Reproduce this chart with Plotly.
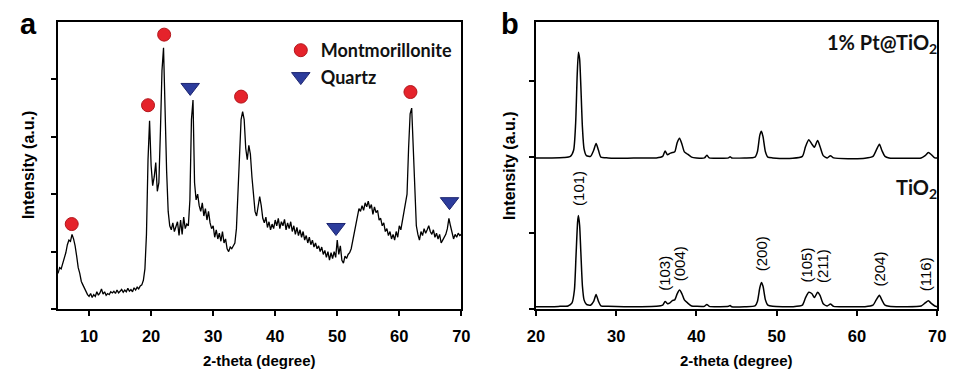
import plotly.graph_objects as go

# ---------------- Panel a : clay XRD pattern ----------------
ANGLE_A = [
    5.0, 5.25, 5.5, 5.75, 6.0, 6.25, 6.5, 6.75, 7.0, 7.25, 7.5, 7.75, 8.0, 8.25, 8.5, 8.75,
    9.0, 9.25, 9.5, 9.75, 10.0, 10.25, 10.5, 10.75, 11.0, 11.25, 11.5, 11.75, 12.0, 12.25, 12.5, 12.75,
    13.0, 13.25, 13.5, 13.75, 14.0, 14.25, 14.5, 14.75, 15.0, 15.25, 15.5, 15.75, 16.0, 16.25, 16.5, 16.75,
    17.0, 17.25, 17.5, 17.75, 18.0, 18.25, 18.5, 18.75, 19.0, 19.25, 19.5, 19.75, 20.0, 20.25, 20.5, 20.75,
    21.0, 21.25, 21.5, 21.75, 22.0, 22.25, 22.5, 22.75, 23.0, 23.25, 23.5, 23.75, 24.0, 24.25, 24.5, 24.75,
    25.0, 25.25, 25.5, 25.75, 26.0, 26.25, 26.5, 26.75, 27.0, 27.25, 27.5, 27.75, 28.0, 28.25, 28.5, 28.75,
    29.0, 29.25, 29.5, 29.75, 30.0, 30.25, 30.5, 30.75, 31.0, 31.25, 31.5, 31.75, 32.0, 32.25, 32.5, 32.75,
    33.0, 33.25, 33.5, 33.75, 34.0, 34.25, 34.5, 34.75, 35.0, 35.25, 35.5, 35.75, 36.0, 36.25, 36.5, 36.75,
    37.0, 37.25, 37.5, 37.75, 38.0, 38.25, 38.5, 38.75, 39.0, 39.25, 39.5, 39.75, 40.0, 40.25, 40.5, 40.75,
    41.0, 41.25, 41.5, 41.75, 42.0, 42.25, 42.5, 42.75, 43.0, 43.25, 43.5, 43.75, 44.0, 44.25, 44.5, 44.75,
    45.0, 45.25, 45.5, 45.75, 46.0, 46.25, 46.5, 46.75, 47.0, 47.25, 47.5, 47.75, 48.0, 48.25, 48.5, 48.75,
    49.0, 49.25, 49.5, 49.75, 50.0, 50.25, 50.5, 50.75, 51.0, 51.25, 51.5, 51.75, 52.0, 52.25, 52.5, 52.75,
    53.0, 53.25, 53.5, 53.75, 54.0, 54.25, 54.5, 54.75, 55.0, 55.25, 55.5, 55.75, 56.0, 56.25, 56.5, 56.75,
    57.0, 57.25, 57.5, 57.75, 58.0, 58.25, 58.5, 58.75, 59.0, 59.25, 59.5, 59.75, 60.0, 60.25, 60.5, 60.75,
    61.0, 61.25, 61.5, 61.75, 62.0, 62.25, 62.5, 62.75, 63.0, 63.25, 63.5, 63.75, 64.0, 64.25, 64.5, 64.75,
    65.0, 65.25, 65.5, 65.75, 66.0, 66.25, 66.5, 66.75, 67.0, 67.25, 67.5, 67.75, 68.0, 68.25, 68.5, 68.75,
    69.0, 69.25, 69.5, 69.75, 70.0,
]
INTENSITY_A = [
    0.62, 0.72, 0.70, 0.80, 0.86, 0.98, 1.12, 1.20, 1.18, 1.30, 1.22, 1.10, 0.92, 0.72, 0.62, 0.48,
    0.42, 0.36, 0.33, 0.25, 0.22, 0.27, 0.20, 0.25, 0.22, 0.30, 0.24, 0.28, 0.35, 0.26, 0.30, 0.24,
    0.27, 0.25, 0.30, 0.28, 0.31, 0.27, 0.33, 0.28, 0.31, 0.34, 0.29, 0.33, 0.30, 0.36, 0.31, 0.34,
    0.30, 0.37, 0.33, 0.38, 0.35, 0.40, 0.42, 0.50, 0.70, 1.30, 2.60, 3.28, 2.50, 2.15, 2.30, 2.55,
    2.05, 2.20, 3.10, 4.15, 4.55, 3.40, 2.40, 1.70, 1.45, 1.38, 1.50, 1.35, 1.45, 1.52, 1.28, 1.55,
    1.30, 1.60, 1.40, 1.48, 1.45, 1.90, 3.30, 3.64, 2.20, 1.90, 2.00, 1.80, 1.70, 1.85, 1.62, 1.75,
    1.55, 1.70, 1.50, 1.40, 1.45, 1.25, 1.38, 1.22, 1.32, 1.18, 1.35, 1.15, 1.22, 1.05, 1.00, 1.08,
    1.05, 1.10, 1.15, 1.40, 2.10, 2.90, 3.30, 3.44, 3.30, 2.80, 2.60, 2.85, 2.70, 2.30, 2.00, 1.70,
    1.62, 1.80, 1.96, 1.80, 1.58, 1.50, 1.60, 1.42, 1.52, 1.38, 1.48, 1.40, 1.55, 1.45, 1.58, 1.40,
    1.52, 1.45, 1.56, 1.38, 1.50, 1.40, 1.52, 1.35, 1.45, 1.30, 1.42, 1.28, 1.38, 1.25, 1.35, 1.20,
    1.28, 1.15, 1.25, 1.12, 1.20, 1.08, 1.15, 1.05, 1.10, 1.00, 1.08, 0.95, 1.02, 0.90, 1.00, 0.85,
    0.98, 0.88, 1.00, 0.90, 1.20, 0.95, 1.10, 0.85, 0.80, 0.92, 0.88, 0.95, 0.98, 1.05, 1.20, 1.30,
    1.45, 1.60, 1.75, 1.70, 1.80, 1.72, 1.85, 1.78, 1.88, 1.75, 1.82, 1.65, 1.78, 1.68, 1.72, 1.55,
    1.58, 1.45, 1.50, 1.35, 1.40, 1.28, 1.35, 1.22, 1.30, 1.20, 1.35, 1.25, 1.45, 1.38, 1.55, 1.70,
    1.85, 2.00, 2.80, 3.40, 3.50, 2.80, 1.90, 1.45, 1.30, 1.20, 1.35, 1.28, 1.40, 1.32, 1.38, 1.45,
    1.35, 1.30, 1.38, 1.25, 1.32, 1.22, 1.30, 1.15, 1.20, 1.25, 1.30, 1.40, 1.58, 1.45, 1.30, 1.22,
    1.30, 1.25, 1.32, 1.28, 1.30,
]

MONT_ANGLES = [7.2, 19.5, 22.1, 34.5, 61.8]
MONT_LEVELS = [1.48, 3.55, 4.78, 3.70, 3.78]
QUARTZ_ANGLES = [26.3, 49.8, 68.1]
QUARTZ_LEVELS = [3.86, 1.42, 1.87]

# ---------------- Panel b : TiO2 patterns ----------------
ANGLE_TIO2 = [
    20.0, 22.0, 23.0, 24.0, 24.5, 24.8, 25.0, 25.2, 25.3, 25.45, 25.6, 25.8, 26.0, 26.3, 26.8,
    27.2, 27.5, 27.8, 28.1, 29.0, 31.0, 33.0, 35.0, 35.8, 36.1, 36.4, 36.7, 37.0, 37.3, 37.6,
    37.9, 38.2, 38.5, 38.9, 39.4, 40.0, 41.0, 41.3, 41.6, 43.0, 44.0, 44.2, 44.4, 46.0, 47.3,
    47.6, 47.9, 48.1, 48.3, 48.6, 48.9, 49.5, 52.0, 53.2, 53.6, 54.0, 54.4, 54.7, 55.1, 55.4,
    55.8, 56.3, 56.7, 57.1, 59.0, 61.0, 62.0, 62.4, 62.8, 63.1, 63.5, 64.0, 66.0, 68.0, 68.5,
    68.9, 69.3, 69.7, 70.0,
]
INTENSITY_TIO2 = [
    0.03, 0.03, 0.035, 0.04, 0.08, 0.25, 0.70, 1.15, 1.23, 1.10, 0.75, 0.30, 0.12, 0.06, 0.05,
    0.10, 0.19, 0.10, 0.04, 0.035, 0.03, 0.03, 0.035, 0.05, 0.10, 0.07, 0.08, 0.11, 0.12, 0.20,
    0.25, 0.20, 0.12, 0.08, 0.04, 0.035, 0.035, 0.06, 0.035, 0.03, 0.035, 0.045, 0.03, 0.03, 0.04,
    0.10, 0.28, 0.35, 0.30, 0.12, 0.05, 0.035, 0.03, 0.05, 0.15, 0.22, 0.20, 0.15, 0.22, 0.18,
    0.07, 0.04, 0.065, 0.035, 0.03, 0.03, 0.05, 0.12, 0.18, 0.12, 0.05, 0.035, 0.03, 0.04, 0.08,
    0.11, 0.07, 0.04, 0.03,
]
ANGLE_PT = [
    20.0, 22.0, 23.5, 24.3, 24.7, 24.95, 25.15, 25.3, 25.45, 25.6, 25.8, 26.0, 26.3, 26.8,
    27.2, 27.5, 27.8, 28.1, 29.0, 31.0, 33.0, 35.0, 35.8, 36.1, 36.4, 36.7, 37.0, 37.3, 37.6,
    37.9, 38.2, 38.5, 38.9, 39.4, 40.0, 41.0, 41.3, 41.6, 43.0, 44.0, 44.2, 44.4, 46.0, 47.3,
    47.6, 47.9, 48.1, 48.3, 48.6, 48.9, 49.5, 52.0, 53.2, 53.6, 54.0, 54.4, 54.7, 55.1, 55.4,
    55.8, 56.3, 56.7, 57.1, 59.0, 61.0, 62.0, 62.4, 62.8, 63.1, 63.5, 64.0, 66.0, 68.0, 68.5,
    68.9, 69.3, 69.7, 70.0,
]
INTENSITY_PT = [
    0.0, 0.0, 0.005, 0.02, 0.10, 0.45, 1.10, 1.39, 1.30, 0.95, 0.40, 0.12, 0.03, 0.02,
    0.10, 0.19, 0.10, 0.01, 0.0, -0.005, 0.0, 0.0, 0.02, 0.09, 0.04, 0.06, 0.07, 0.08, 0.20,
    0.26, 0.18, 0.08, 0.05, 0.01, 0.0, 0.0, 0.035, 0.0, -0.005, 0.0, 0.015, 0.0, 0.0, 0.01,
    0.08, 0.30, 0.35, 0.28, 0.08, 0.01, 0.0, -0.005, 0.02, 0.15, 0.24, 0.18, 0.14, 0.23, 0.15,
    0.03, 0.0, 0.03, 0.0, -0.01, -0.005, 0.02, 0.10, 0.18, 0.10, 0.02, 0.0, -0.005, 0.0, 0.03,
    0.07, 0.04, 0.0, 0.0,
]
PT_OFFSET = 1.99

MILLER_LABELS = ["(101)", "(103)", "(004)", "(200)", "(105)", "(211)", "(204)", "(116)"]
MILLER_ANGLES = [25.3, 36.0, 37.9, 48.1, 53.7, 55.7, 62.7, 68.5]
MILLER_LEVELS = [1.33, 0.21, 0.34, 0.47, 0.32, 0.32, 0.27, 0.21]

X_TICKS_A = [10, 20, 30, 40, 50, 60, 70]
X_TICKS_B = [20, 30, 40, 50, 60, 70]

# ---------------- figure ----------------
W, H = 956, 369
BLACK = "#000000"
RED = "#e5232b"
BLUE = "#2c3c9c"
ARIAL = "Liberation Sans, Arial, sans-serif"
CAL = "Lato, Open Sans, sans-serif"

fig = go.Figure()
fig.add_trace(go.Scatter(x=ANGLE_A, y=INTENSITY_A, mode="lines",
                         line=dict(color=BLACK, width=1.3), showlegend=False,
                         xaxis="x", yaxis="y"))
fig.add_trace(go.Scatter(x=MONT_ANGLES, y=MONT_LEVELS, mode="markers", name="Montmorillonite",
                         marker=dict(symbol="circle", size=13, color=RED,
                                     line=dict(color="#b3161c", width=1)),
                         xaxis="x", yaxis="y"))
fig.add_trace(go.Scatter(x=QUARTZ_ANGLES, y=QUARTZ_LEVELS, mode="markers", name="Quartz",
                         marker=dict(symbol="triangle-down", size=16, color=BLUE,
                                     line=dict(color="#1d2670", width=1)),
                         xaxis="x", yaxis="y"))
fig.add_trace(go.Scatter(x=ANGLE_TIO2, y=INTENSITY_TIO2, mode="lines",
                         line=dict(color=BLACK, width=1.5, shape="spline", smoothing=0.6),
                         showlegend=False, xaxis="x2", yaxis="y2"))
fig.add_trace(go.Scatter(x=ANGLE_PT, y=[v + PT_OFFSET for v in INTENSITY_PT], mode="lines",
                         line=dict(color=BLACK, width=1.5, shape="spline", smoothing=0.6),
                         showlegend=False, xaxis="x2", yaxis="y2"))

ydom = [1 - 309 / H, 1 - 22 / H]
axis_common = dict(showline=True, linecolor=BLACK, linewidth=2, mirror=True,
                   ticks="outside", ticklen=5, tickwidth=1.5, tickcolor=BLACK,
                   showgrid=False, zeroline=False)
tickfont = dict(family="Liberation Sans", size=16.5, color=BLACK, weight="bold")

fig.update_layout(
    width=W, height=H, margin=dict(l=0, r=0, t=0, b=0),
    paper_bgcolor="white", plot_bgcolor="white",
    font=dict(family=ARIAL, color=BLACK),
    xaxis=dict(domain=[50 / W, 461 / W], range=[5, 70], tickmode="array", tickvals=X_TICKS_A,
               ticktext=["<b>%d</b>" % v for v in X_TICKS_A], ticklabelstandoff=6,
               tickfont=tickfont, anchor="y", **axis_common),
    yaxis=dict(domain=ydom, range=[0, 5], tickvals=[0, 1, 2, 3, 4], showticklabels=False,
               anchor="x", **axis_common),
    xaxis2=dict(domain=[537 / W, 946 / W], range=[20, 70], tickmode="array", tickvals=X_TICKS_B,
                ticktext=["<b>%d</b>" % v for v in X_TICKS_B], ticklabelstandoff=6,
                tickfont=tickfont, anchor="y2", **axis_common),
    yaxis2=dict(domain=ydom, range=[0, 3.78], tickvals=[0, 1, 2, 3], showticklabels=False,
                anchor="x2", **axis_common),
    legend=dict(x=277 / W, y=1 - 32 / H, xanchor="left", yanchor="top",
                bgcolor="rgba(0,0,0,0)", borderwidth=0, tracegroupgap=0,
                font=dict(family=CAL, size=18, color="#111111", weight="bold")),
    showlegend=True,
)

ann = []
title_font = dict(family=ARIAL, size=15, color=BLACK, weight="bold")
for xc in [(50 + 461) / 2, (537 + 946) / 2]:
    ann.append(dict(text="<b>2-theta (degree)</b>", x=xc / W, y=1 - 360 / H, xref="paper", yref="paper",
                    xanchor="center", yanchor="middle", showarrow=False, font=title_font))
for xc in [20, 510]:
    ann.append(dict(text="<b>Intensity (a.u.)</b>", x=xc / W, y=1 - 165.5 / H, xref="paper", yref="paper",
                    xanchor="center", yanchor="middle", textangle=-90, showarrow=False,
                    font=dict(family=ARIAL, size=16, color=BLACK, weight="bold")))
for letter, xc in [("a", 20), ("b", 511)]:
    ann.append(dict(text="<b>%s</b>" % letter, x=xc / W, y=1 - 24 / H, xref="paper", yref="paper",
                    xanchor="center", yanchor="middle", showarrow=False,
                    font=dict(family=ARIAL, size=29, color=BLACK, weight="bold")))
ann.append(dict(text="<b>1% Pt@TiO<sub>2</sub></b>", x=948 / W, y=1 - 44 / H, xref="paper", yref="paper",
                xanchor="right", yanchor="middle", showarrow=False,
                font=dict(family=CAL, size=20, color="#111111", weight="bold")))
ann.append(dict(text="<b>TiO<sub>2</sub></b>", x=948 / W, y=1 - 188 / H, xref="paper", yref="paper",
                xanchor="right", yanchor="middle", showarrow=False,
                font=dict(family=CAL, size=20, color="#111111", weight="bold")))
for lab, xa, yl in zip(MILLER_LABELS, MILLER_ANGLES, MILLER_LEVELS):
    ann.append(dict(text=lab, x=xa, y=yl, xref="x2", yref="y2", xanchor="center",
                    yanchor="bottom", textangle=-90, showarrow=False,
                    font=dict(family=ARIAL, size=15, color=BLACK)))
fig.update_layout(annotations=ann)

fig.write_html("out.html")
